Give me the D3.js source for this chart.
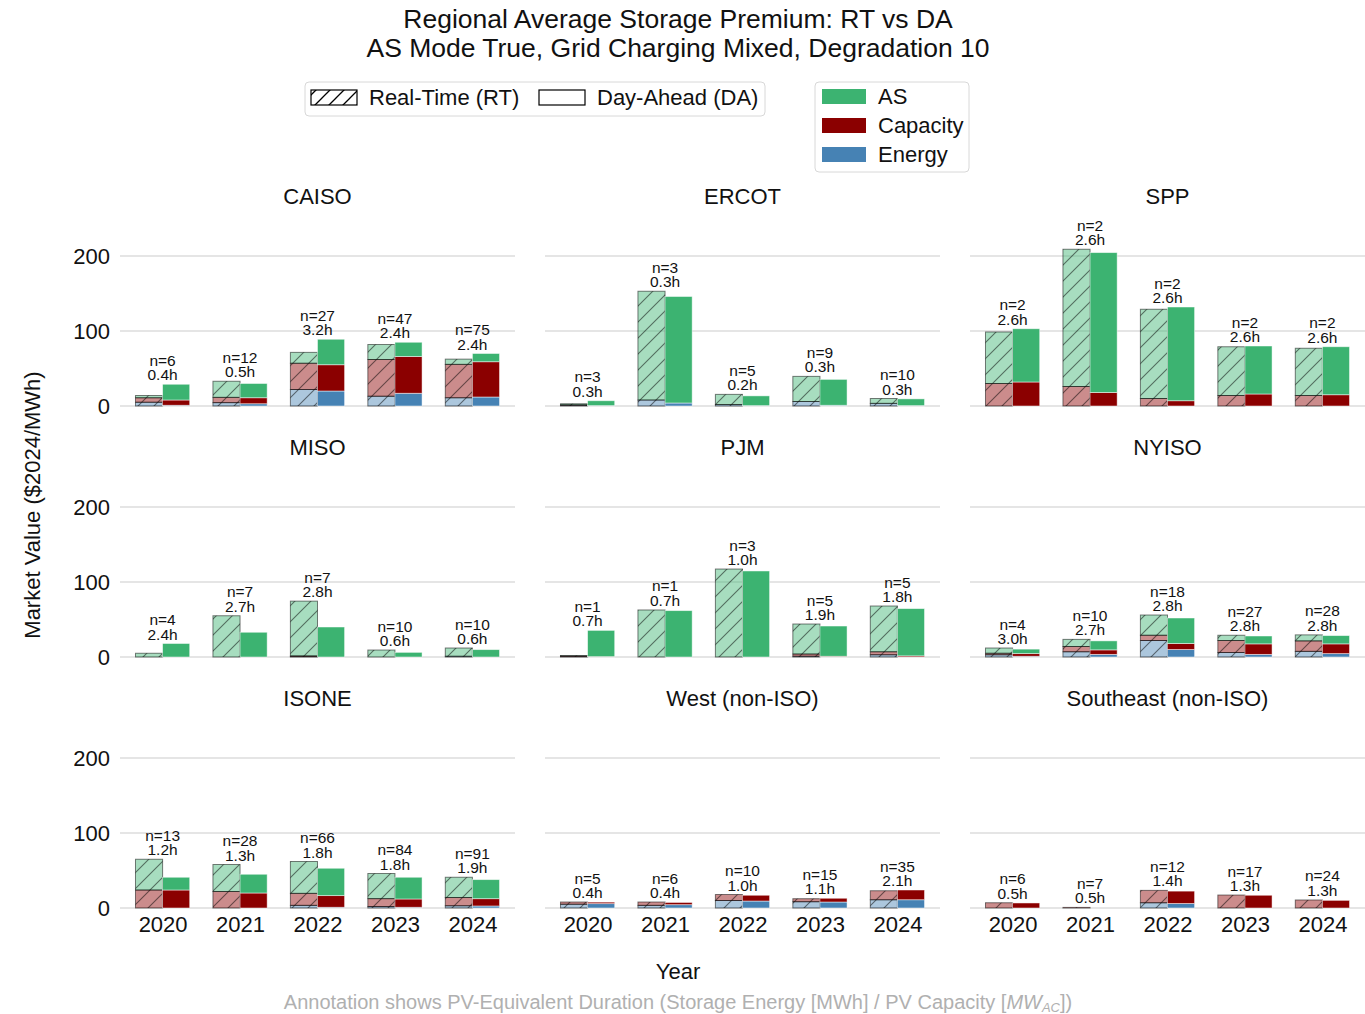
<!DOCTYPE html>
<html><head><meta charset="utf-8">
<script src="https://cdn.jsdelivr.net/npm/d3@7"></script>
<style>body{margin:0;background:#fff} text{font-family:"Liberation Sans",Arial,Helvetica,sans-serif;fill:#111}</style>
</head><body><svg id="c" width="1365" height="1014"></svg>
<script>
const regions = ["CAISO","ERCOT","SPP","MISO","PJM","NYISO","ISONE","West (non-ISO)","Southeast (non-ISO)"];
const years = ["2020","2021","2022","2023","2024"];
const components = ["Energy","Capacity","AS"];
const compColors = ["#4682b4","#8b0000","#3cb371"];
const yTicks = [0,100,200];

// Real-Time stacks, rows = regions, cols = years
const rtEnergy = [
  [5,4.5,22,13,11],[1,8,2,6,3.5],[0,0,0,0,0],[0,0,0.5,0,1],[0.5,0,0,1,3],
  [3,7,22,6,7.5],[0,0,3.5,2,3],[5,3.5,10,8.4,11],[0,0,7,0,0]];
const rtCapacity = [
  [6,7,35,49,44.5],[0.5,0,0,0,0],[30,26,10,14,14],[0,0,1,0,0],[1,0,0,3,4],
  [2,7,7,16,14],[24,22,16,10.5,11],[3,4.5,8,4,12],[7,0.8,16.5,17.3,10.7]];
const rtAS = [
  [3,21.5,14.5,20,7],[1.5,145,13.5,33.5,6.5],[68.7,183,119,65,63],[5,55,73,9.3,11],[0.5,62.7,117.3,40,61],
  [7,9.5,27,7,8],[41,36,42.5,33.5,27],[0,0,0,0,0],[0,0,0,0,0]];
// Day-Ahead stacks
const daEnergy = [
  [1,3,20,17,12],[0.5,4,0.5,1,0.5],[0,0,0,0,0],[0,0,0,0,0],[0,0,0,0,0],
  [1,3.5,10,3.5,4.5],[0,0,1,1,2.7],[5.8,4.4,9.3,8,11],[0,0,6,0,0]];
const daCapacity = [
  [7,8,35,49,47],[0,0,0,0,0],[32,18,7,16,15],[0,0,0,0,0],[0.5,0,0,1,1.5],
  [3.5,6,8,14,13],[24,20,15.5,11,9.7],[2,3,7.7,5,13],[6.7,0,16.5,17,10.2]];
const daAS = [
  [21,19,34,19,11],[6.5,142,13,34.5,9],[71,186.5,125,64,64],[18,33,40,6.2,9.8],[35,61.8,114.7,40.3,63],
  [6,12,34,10.5,11],[17,25,36.5,29,25.4],[0,0,0,0,0],[0,0,0,0,0]];
// annotations
const nPlants = [
  [6,12,27,47,75],[3,3,5,9,10],[2,2,2,2,2],[4,7,7,10,10],[1,1,3,5,5],
  [4,10,18,27,28],[13,28,66,84,91],[5,6,10,15,35],[6,7,12,17,24]];
const pvDuration = [
  ["0.4","0.5","3.2","2.4","2.4"],["0.3","0.3","0.2","0.3","0.3"],["2.6","2.6","2.6","2.6","2.6"],
  ["2.4","2.7","2.8","0.6","0.6"],["0.7","0.7","1.0","1.9","1.8"],["3.0","2.7","2.8","2.8","2.8"],
  ["1.2","1.3","1.8","1.8","1.9"],["0.4","0.4","1.0","1.1","2.1"],["0.5","0.5","1.4","1.3","1.3"]];

const svg = d3.select("#c");
const defs = svg.append("defs");
const hp = defs.append("pattern").attr("id","hatch").attr("patternUnits","userSpaceOnUse")
  .attr("width",16).attr("height",16);
hp.append("path").attr("d","M-4,4 L4,-4 M0,16 L16,0 M12,20 L20,12")
  .attr("stroke","#000").attr("stroke-opacity",0.5).attr("stroke-width",1.1).attr("fill","none");
const hpL = defs.append("pattern").attr("id","hatchL").attr("patternUnits","userSpaceOnUse")
  .attr("width",14).attr("height",14);
hpL.append("path").attr("d","M-4,4 L4,-4 M0,14 L14,0 M10,18 L18,10")
  .attr("stroke","#000").attr("stroke-width",1.3).attr("fill","none");

const colLeft = [120,545,970], panelW = 395;
const rowBase = [406,657,908], panelH = 195;
const yMax = 260;
const FONT = "'Liberation Sans',Arial,sans-serif";

regions.forEach((reg, r) => {
  const col = r % 3, row = Math.floor(r/3);
  const x = d3.scaleLinear().domain([-0.55,4.55]).range([colLeft[col], colLeft[col]+panelW]);
  const y = d3.scaleLinear().domain([0,yMax]).range([rowBase[row], rowBase[row]-panelH]);
  const g = svg.append("g");
  // grid
  g.selectAll("line.grid").data(yTicks).join("line")
    .attr("x1",colLeft[col]).attr("x2",colLeft[col]+panelW)
    .attr("y1",d=>y(d)).attr("y2",d=>y(d))
    .attr("stroke","#dcdcdc").attr("stroke-width",1.3);
  if (col===0) {
    const ax = g.append("g").attr("transform",`translate(${colLeft[col]},0)`)
      .call(d3.axisLeft(y).tickValues(yTicks).tickSize(0).tickPadding(10));
    ax.select(".domain").remove();
    ax.selectAll("text").attr("font-size",22).attr("fill","#111").style("font-family",FONT);
  }
  if (row===2) {
    const ax = g.append("g").attr("transform",`translate(0,${rowBase[row]})`)
      .call(d3.axisBottom(x).tickValues([0,1,2,3,4]).tickFormat(i=>years[i]).tickSize(0).tickPadding(8));
    ax.select(".domain").remove();
    ax.selectAll("text").attr("font-size",22).attr("fill","#111").style("font-family",FONT);
  }
  g.append("text").attr("x",colLeft[col]+panelW/2).attr("y",rowBase[row]-202)
    .attr("text-anchor","middle").attr("font-size",22).text(reg);

  const rtComp = [rtEnergy[r], rtCapacity[r], rtAS[r]];
  const daComp = [daEnergy[r], daCapacity[r], daAS[r]];
  const bw = x(0.35) - x(0);
  years.forEach((yr, i) => {
    // RT
    let base = 0;
    components.forEach((c, k) => {
      const v = rtComp[k][i];
      if (v <= 0) return;
      const x0 = x(i-0.35), y0 = y(base+v), h = y(base)-y(base+v);
      g.append("rect").attr("x",x0).attr("y",y0).attr("width",bw).attr("height",h)
        .attr("fill",compColors[k]).attr("fill-opacity",0.45);
      g.append("rect").attr("x",x0).attr("y",y0).attr("width",bw).attr("height",h)
        .attr("fill","url(#hatch)");
      g.append("rect").attr("x",x0).attr("y",y0).attr("width",bw).attr("height",h)
        .attr("fill","none").attr("stroke","#000").attr("stroke-opacity",0.5).attr("stroke-width",1);
      base += v;
    });
    const rtTot = base;
    base = 0;
    components.forEach((c, k) => {
      const v = daComp[k][i];
      if (v <= 0) return;
      g.append("rect").attr("x",x(i)).attr("y",y(base+v)).attr("width",bw)
        .attr("height",y(base)-y(base+v))
        .attr("fill",compColors[k]).attr("stroke","#fff").attr("stroke-opacity",0.6).attr("stroke-width",0.8);
      base += v;
    });
    const mx = Math.max(rtTot, base);
    const by = y(mx) - 4;
    g.append("text").attr("x",x(i)).attr("y",by-14.5).attr("text-anchor","middle").attr("font-size",15.5)
      .text("n="+nPlants[r][i]);
    g.append("text").attr("x",x(i)).attr("y",by).attr("text-anchor","middle").attr("font-size",15.5)
      .text(pvDuration[r][i]+"h");
  });
});

// titles
svg.append("text").attr("x",678).attr("y",28).attr("text-anchor","middle").attr("font-size",26.5)
  .text("Regional Average Storage Premium: RT vs DA");
svg.append("text").attr("x",678).attr("y",57).attr("text-anchor","middle").attr("font-size",26.5)
  .text("AS Mode True, Grid Charging Mixed, Degradation 10");
// axis labels
svg.append("text").attr("transform","translate(40,505) rotate(-90)").attr("text-anchor","middle")
  .attr("font-size",22).text("Market Value ($2024/MWh)");
svg.append("text").attr("x",678).attr("y",979).attr("text-anchor","middle").attr("font-size",22).text("Year");
const fn = svg.append("text").attr("x",678).attr("y",1009).attr("text-anchor","middle").attr("font-size",20)
  .style("fill","#b0b0b0");
fn.append("tspan").text("Annotation shows PV-Equivalent Duration (Storage Energy [MWh] / PV Capacity [");
fn.append("tspan").attr("font-style","italic").text("MW");
fn.append("tspan").attr("font-style","italic").attr("font-size",13).attr("dy",2.5).text("AC");
fn.append("tspan").attr("dy",-2.5).text("])");

// legend 1: market type
const l1 = svg.append("g");
l1.append("rect").attr("x",305).attr("y",82).attr("width",460).attr("height",34).attr("rx",4)
  .attr("fill","#fff").attr("stroke","#d8d8d8");
l1.append("rect").attr("x",311).attr("y",90).attr("width",46).attr("height",15).attr("fill","url(#hatchL)")
  .attr("stroke","#000").attr("stroke-width",1.2);
l1.append("text").attr("x",369).attr("y",105).attr("font-size",22).text("Real-Time (RT)");
l1.append("rect").attr("x",539).attr("y",90).attr("width",46).attr("height",15).attr("fill","#fff")
  .attr("stroke","#000").attr("stroke-width",1.2);
l1.append("text").attr("x",597).attr("y",105).attr("font-size",22).text("Day-Ahead (DA)");

// legend 2: components
const l2 = svg.append("g");
l2.append("rect").attr("x",815).attr("y",82).attr("width",154).attr("height",90).attr("rx",4)
  .attr("fill","#fff").attr("stroke","#d8d8d8");
const legOrder = [2,1,0];
legOrder.forEach((k, j) => {
  l2.append("rect").attr("x",822).attr("y",89+j*29).attr("width",44).attr("height",15).attr("fill",compColors[k]);
  l2.append("text").attr("x",878).attr("y",104+j*29).attr("font-size",22).text(components[k]);
});
</script></body></html>
